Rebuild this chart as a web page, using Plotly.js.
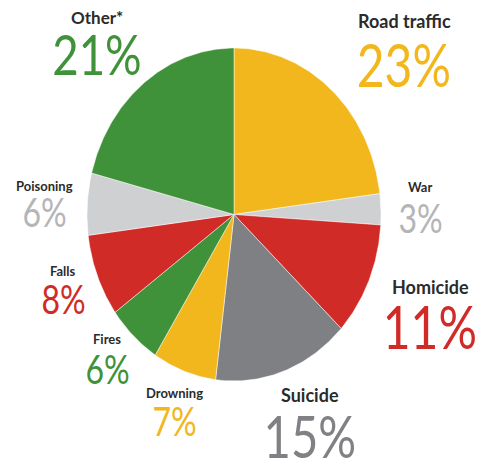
<!DOCTYPE html>
<html>
<head>
<meta charset="utf-8">
<script src="https://cdn.plot.ly/plotly-3.0.1.min.js"></script>
<style>html,body{margin:0;padding:0;background:#fff;}#chart{width:477px;height:461px;}</style>
</head>
<body>
<div id="chart"></div>
<script>
// Data (clockwise from 12 o'clock)
var categories = ['Road traffic', 'War', 'Homicide', 'Suicide', 'Drowning', 'Fires', 'Falls', 'Poisoning', 'Other*'];
var shares = [23, 3, 11, 15, 7, 6, 8, 6, 21];

// Styles
var sliceColors = ['#F2B71D', '#CFD0D2', '#D12B27', '#7F8083', '#F2B71D', '#3F923A', '#D12B27', '#CFD0D2', '#3F923A'];
var pctColors  = ['#F2B71D', '#B4B5B7', '#D12B27', '#808184', '#F2B71D', '#3F923A', '#D12B27', '#B4B5B7', '#3F923A'];
// label layout: [x centre, y of name, y of percent, name size, percent size]
var labelLayout = [
  [404, 21, 64, 18, 60],
  [420, 187, 218, 13, 40],
  [430, 287, 326, 18, 60],
  [310, 395, 435, 18, 59],
  [174, 393, 421, 13, 40],
  [107, 339, 369, 13, 40],
  [63, 271, 299, 13, 40],
  [44, 186, 212, 13, 40],
  [97, 17, 53, 17, 57]
];
var pctScaleX = 0.8;

var cx = 234, cy = 214.5, rx = 147, ry = 166.5;
var total = shares.reduce(function(a, b){ return a + b; }, 0);
var traces = [];
var cum = 0;
for (var i = 0; i < shares.length; i++) {
  var a0 = cum / total * 2 * Math.PI;
  cum += shares[i];
  var a1 = cum / total * 2 * Math.PI;
  var xs = [cx], ys = [cy];
  var n = Math.max(4, Math.ceil((a1 - a0) / 0.01));
  for (var k = 0; k <= n; k++) {
    var t = a0 + (a1 - a0) * k / n;
    xs.push(cx + rx * Math.sin(t));
    ys.push(cy - ry * Math.cos(t));
  }
  xs.push(cx); ys.push(cy);
  traces.push({
    type: 'scatter', mode: 'lines', x: xs, y: ys, fill: 'toself',
    fillcolor: sliceColors[i], line: {color: 'rgba(255,255,255,0.6)', width: 0.8},
    hoverinfo: 'skip', showlegend: false
  });
}

var annotations = [];
var pctFont = 'Lato, "Open Sans", sans-serif';
var nameFont = 'Lato, "Liberation Sans", sans-serif';
var css = '';
for (var j = 0; j < categories.length; j++) {
  var L = labelLayout[j];
  annotations.push({
    xref: 'x', yref: 'y', x: L[0], y: L[2], text: shares[j] + '%',
    showarrow: false, xanchor: 'center', yanchor: 'middle',
    font: {family: pctFont, size: L[4], color: pctColors[j]}
  });
  css += 'g.annotation[data-index="' + j + '"] text{transform-box:fill-box;transform-origin:center;transform:scaleX(' + pctScaleX + ');}\n';
}
for (var m = 0; m < categories.length; m++) {
  var L2 = labelLayout[m];
  annotations.push({
    xref: 'x', yref: 'y', x: L2[0], y: L2[1], text: '<b>' + categories[m] + '</b>',
    showarrow: false, xanchor: 'center', yanchor: 'middle',
    font: {family: nameFont, size: L2[3], color: '#2B2B2B'}
  });
}
var st = document.createElement('style');
st.textContent = css;
document.head.appendChild(st);

var layout = {
  width: 477, height: 461,
  margin: {l: 0, r: 0, t: 0, b: 0},
  paper_bgcolor: '#fff', plot_bgcolor: '#fff',
  xaxis: {range: [0, 477], visible: false, fixedrange: true},
  yaxis: {range: [461, 0], visible: false, fixedrange: true},
  annotations: annotations,
  showlegend: false
};

Plotly.newPlot('chart', traces, layout, {displayModeBar: false, staticPlot: true});
</script>
</body>
</html>
